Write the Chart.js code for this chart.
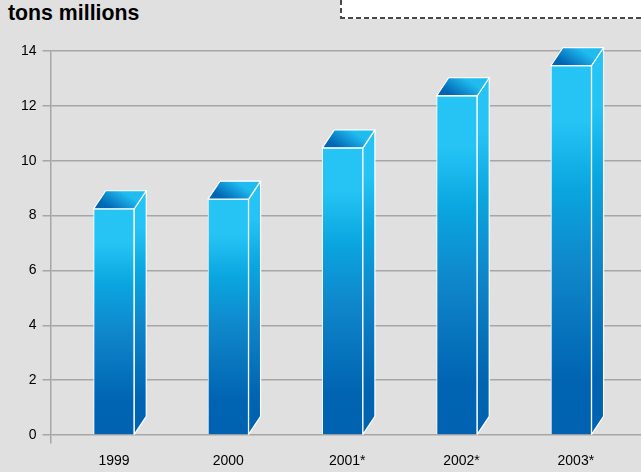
<!DOCTYPE html>
<html>
<head>
<meta charset="utf-8">
<script src="https://cdn.jsdelivr.net/npm/chart.js@4"></script>
<style>
  html, body { margin: 0; padding: 0; background: #e0e0e0; overflow: hidden; }
  #wrap { position: relative; width: 641px; height: 472px; overflow: hidden; }
  #heading { position: absolute; left: 8px; top: 1px; font: bold 21.3px/24px "Liberation Sans", Arial, sans-serif; color: #000; }
  #box {
    position: absolute; left: 340px; top: 0; width: 301px; height: 19px; background-color: #fff;
    background-image:
      repeating-linear-gradient(90deg, #4a4a4a 0 5px, transparent 5px 8px),
      repeating-linear-gradient(180deg, #4a4a4a 0 5px, transparent 5px 8px);
    background-size: 100% 2px, 2px 100%;
    background-position: left bottom, left top;
    background-repeat: no-repeat;
  }
  canvas { position: absolute; left: 0; top: 0; }
</style>
</head>
<body>
<div id="wrap">
  <div id="heading">tons millions</div>
  <div id="box"></div>
  <canvas id="bars" width="641" height="472"></canvas>
</div>
<script>
var years = ['1999', '2000', '2001*', '2002*', '2003*'];
var tons = [8.25, 8.6, 10.47, 12.37, 13.47];
var yTicks = [0, 2, 4, 6, 8, 10, 12, 14];

var depthX = 12, depthY = 18;

function frontGradient(ctx, top, bottom) {
  var g = ctx.createLinearGradient(0, top, 0, bottom);
  g.addColorStop(0, '#25c4f5');
  g.addColorStop(0.15, '#25c4f5');
  g.addColorStop(0.33, '#0aa6e0');
  g.addColorStop(0.55, '#0f86ca');
  g.addColorStop(0.85, '#0064b2');
  g.addColorStop(1, '#0062b0');
  return g;
}

// side and lid of each bar, the library only gives the flat front
var boxFaces = {
  id: 'boxFaces',
  afterDatasetsDraw: function(chart) {
    var ctx = chart.ctx;
    chart.getDatasetMeta(0).data.forEach(function(bar) {
      var l = bar.x - bar.width / 2, r = bar.x + bar.width / 2;
      var t = bar.y, b = bar.base;

      ctx.save();
      ctx.strokeStyle = '#fff';
      ctx.lineWidth = 1.2;
      ctx.lineJoin = 'round';

      ctx.beginPath();
      ctx.moveTo(r, t);
      ctx.lineTo(r + depthX, t - depthY);
      ctx.lineTo(r + depthX, b - depthY);
      ctx.lineTo(r, b);
      ctx.closePath();
      ctx.fillStyle = frontGradient(ctx, t - depthY, b);
      ctx.fill();
      ctx.stroke();

      ctx.beginPath();
      ctx.moveTo(l, t);
      ctx.lineTo(l + depthX, t - depthY);
      ctx.lineTo(r + depthX, t - depthY);
      ctx.lineTo(r, t);
      ctx.closePath();
      var lid = ctx.createLinearGradient(l + 16, t, l + 28, t - depthY);
      lid.addColorStop(0, '#0066b4');
      lid.addColorStop(1, '#20bcf0');
      ctx.fillStyle = lid;
      ctx.fill();
      ctx.stroke();
      ctx.restore();
    });
  }
};

new Chart(document.getElementById('bars').getContext('2d'), {
  type: 'bar',
  data: {
    labels: years,
    datasets: [{
      data: tons.map(function(v, i) { return { x: i, y: v }; }),
      barThickness: 40.6,
      borderColor: '#fff',
      borderWidth: 1,
      backgroundColor: function(c) {
        var area = c.chart.chartArea;
        if (!area) return '#0aa6e0';
        var y = c.chart.scales.y;
        return frontGradient(c.chart.ctx, y.getPixelForValue(tons[c.dataIndex]), y.getPixelForValue(0));
      }
    }]
  },
  plugins: [boxFaces],
  options: {
    responsive: false,
    animation: false,
    layout: { padding: { top: 51, left: 0, right: 0, bottom: 0 } },
    plugins: { legend: { display: false }, tooltip: { enabled: false } },
    scales: {
      x: {
        type: 'linear',
        offset: false,
        min: -0.555,
        max: 4.61,
        // starred years sit a little right of their bar
        afterBuildTicks: function(s) {
          s.ticks = years.map(function(y, i) { return { value: y.indexOf('*') > 0 ? i + 0.04 : i }; });
        },
        afterFit: function(s) { s.height = 29; },
        grid: { display: false },
        border: { display: false },
        ticks: {
          autoSkip: false,
          maxRotation: 0,
          padding: 2,
          color: '#000',
          font: { family: '"Liberation Sans", Arial, sans-serif', size: 14 },
          callback: function(v) { return years[Math.round(v)]; }
        }
      },
      y: {
        min: -0.29,
        max: 14,
        afterBuildTicks: function(s) { s.ticks = yTicks.map(function(v) { return { value: v }; }); },
        afterFit: function(s) { s.width = 50.5; },
        grid: { color: '#a6a6a6', lineWidth: 1.5, tickLength: 8 },
        border: { color: '#a6a6a6', width: 1.5 },
        ticks: {
          padding: 6,
          color: '#000',
          font: { family: '"Liberation Sans", Arial, sans-serif', size: 14 }
        }
      }
    }
  }
});
</script>
</body>
</html>
